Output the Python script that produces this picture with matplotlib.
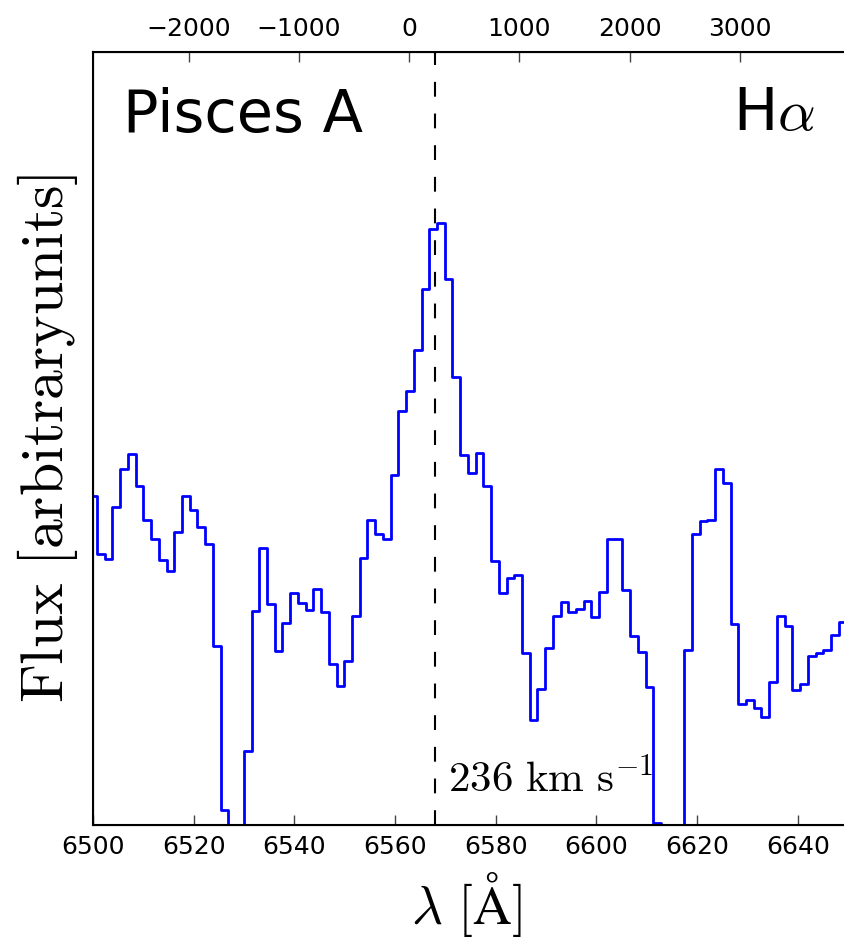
import numpy as np
import matplotlib
matplotlib.use('Agg')
import matplotlib.pyplot as plt

plt.rcParams['mathtext.fontset'] = 'cm'
plt.rcParams['font.family'] = 'DejaVu Sans'

# Halpha rest wavelength, speed of light and the measured velocity
ha_rest = 6562.8
c_kms = 299792.458
v_sys = 236.

# bin centres [A]
wave = [6500.02, 6501.56, 6503.09, 6504.63, 6506.16, 6507.70, 6509.23, 6510.77,
        6512.30, 6513.84, 6515.37, 6516.91, 6518.44, 6519.98, 6521.51, 6523.05,
        6524.58, 6526.12, 6527.65, 6529.19, 6530.72, 6532.26, 6533.79, 6535.33,
        6536.86, 6538.40, 6539.93, 6541.47, 6543.00, 6544.54, 6546.07, 6547.61,
        6549.14, 6550.68, 6552.21, 6553.75, 6555.28, 6556.82, 6558.35, 6559.89,
        6561.42, 6562.96, 6564.49, 6566.03, 6567.56, 6569.10, 6570.63, 6572.17,
        6573.70, 6575.24, 6576.77, 6578.31, 6579.84, 6581.38, 6582.91, 6584.45,
        6585.98, 6587.52, 6589.05, 6590.59, 6592.12, 6593.66, 6595.19, 6596.73,
        6598.26, 6599.80, 6601.33, 6602.87, 6604.40, 6605.94, 6607.47, 6609.01,
        6610.54, 6612.08, 6613.61, 6615.15, 6616.68, 6618.22, 6619.75, 6621.29,
        6622.82, 6624.36, 6625.89, 6627.43, 6628.96, 6630.50, 6632.03, 6633.57,
        6635.10, 6636.64, 6638.17, 6639.71, 6641.24, 6642.78, 6644.31, 6645.85,
        6647.38, 6648.92, 6650.45]

# flux, arbitrary units
flux = [0.426, 0.351, 0.344, 0.411, 0.461, 0.480, 0.439, 0.395,
        0.370, 0.343, 0.329, 0.379, 0.426, 0.408, 0.386, 0.364,
        0.231, 0.019, -0.060, -0.040, 0.096, 0.277, 0.359, 0.286,
        0.225, 0.261, 0.300, 0.287, 0.278, 0.305, 0.275, 0.208,
        0.180, 0.212, 0.270, 0.345, 0.395, 0.377, 0.370, 0.453,
        0.536, 0.562, 0.614, 0.693, 0.771, 0.779, 0.706, 0.580,
        0.479, 0.455, 0.481, 0.439, 0.342, 0.300, 0.320, 0.323,
        0.223, 0.136, 0.176, 0.229, 0.270, 0.288, 0.276, 0.280,
        0.290, 0.269, 0.301, 0.370, 0.370, 0.304, 0.245, 0.224,
        0.178, 0.002, -0.050, -0.070, -0.040, 0.226, 0.376, 0.393,
        0.395, 0.461, 0.443, 0.260, 0.157, 0.162, 0.152, 0.140,
        0.185, 0.271, 0.257, 0.175, 0.182, 0.219, 0.222, 0.226,
        0.246, 0.263, 0.263]

lam_min, lam_max = 6500., 6650.
lam_ticks = [6500, 6520, 6540, 6560, 6580, 6600, 6620, 6640]
vel_ticks = [-2000, -1000, 0, 1000, 2000, 3000]


def to_vel(lam):
    return c_kms * (lam / ha_rest - 1.)


fig = plt.figure(figsize=(8.45, 9.39), dpi=100)
ax = fig.add_axes([0.1101, 0.1214, 0.8935, 0.8232])

ax.plot(wave, flux, drawstyle='steps-mid', color='b', lw=2)
ax.axvline(ha_rest * (1. + v_sys / c_kms), color='k', lw=1.5,
           linestyle=(0, (7.1, 8.1)))

ax.set_xlim(lam_min, lam_max)
ax.set_ylim(0., 1.)
ax.set_yticks([])
ax.set_xticks(lam_ticks)
ax.tick_params(axis='x', direction='in', length=7, width=1, color='#444444',
               labelsize=18, pad=7, top=False)
for s in ax.spines.values():
    s.set_linewidth(1.5)

ax.set_xlabel(r'$\lambda\ [\mathrm{\AA}]$', fontsize=38.5)
ax.xaxis.set_label_coords(0.495, -0.058)
ax.xaxis.label.set_va('top')
ax.set_ylabel(r'$\mathrm{Flux\ [arbitrary units]}$', fontsize=43)
ax.yaxis.set_label_coords(-0.017, 0.5)

# velocity scale along the top
ax2 = ax.twiny()
ax2.set_xlim(to_vel(lam_min), to_vel(lam_max))
ax2.set_xticks(vel_ticks)
ax2.tick_params(axis='x', direction='in', length=7, width=1, color='#444444',
                labelsize=18, pad=8)

ax.text(0.040, 0.8965, 'Pisces A', transform=ax.transAxes, fontsize=42.5,
        ha='left', va='baseline')
ax.text(0.956, 0.899, r'H$\alpha$', transform=ax.transAxes, fontsize=42.5,
        ha='right', va='baseline')
ax.text(6570.5, 0.0414, r'$236\ \mathrm{km\ s^{-1}}$',
        transform=ax.get_xaxis_transform(), fontsize=31,
        ha='left', va='baseline')

fig.savefig('out.png', dpi=100)
